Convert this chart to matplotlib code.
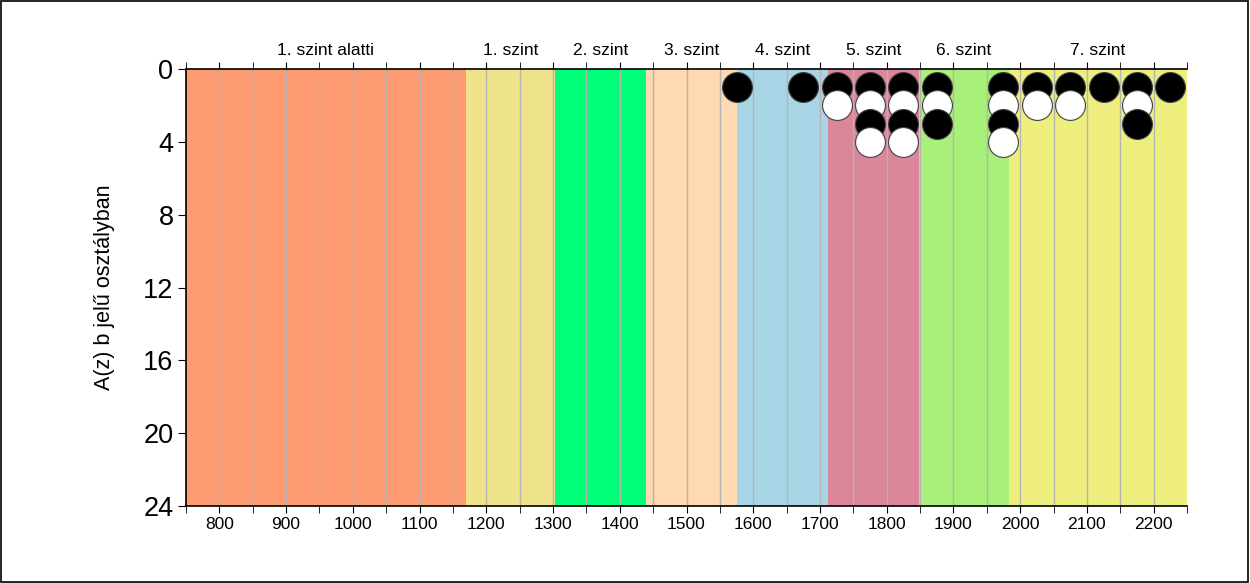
import matplotlib.pyplot as plt
from matplotlib.patches import Rectangle

plt.rcParams['font.family'] = ['Liberation Sans', 'DejaVu Sans']

# Szintek határai és színei
szint_nevek = ["1. szint alatti", "1. szint", "2. szint", "3. szint",
               "4. szint", "5. szint", "6. szint", "7. szint"]
szint_hatarok = [750, 1169, 1303, 1440, 1576, 1712, 1848, 1983, 2250]
szint_szinek = ["#FF9B73", "#EFE38A", "#00FF78", "#FFD9B2",
                "#A8D5E5", "#DB8799", "#A8F07A", "#EEEE7E"]

# Tanulók: oszlop (pontszám) és darabszám
oszlop_x = [1575, 1675, 1725, 1775, 1825, 1875, 1975, 2025, 2075, 2125, 2175, 2225]
oszlop_db = [1, 1, 2, 4, 4, 3, 4, 2, 2, 1, 3, 1]

y_tickek = [0, 4, 8, 12, 16, 20, 24]
x_tickek = [800, 900, 1000, 1100, 1200, 1300, 1400, 1500, 1600, 1700, 1800, 1900, 2000, 2100, 2200]

fig = plt.figure(figsize=(12.5, 5.83), dpi=100)
fig.patches.append(Rectangle((0.0005, 0.001), 0.998, 0.997, transform=fig.transFigure,
                             fill=False, edgecolor="black", linewidth=1.2))
ax = fig.add_axes([0.1488, 0.1321, 0.8008, 0.7495])

for i in range(len(szint_nevek)):
    ax.axvspan(szint_hatarok[i], szint_hatarok[i + 1], color=szint_szinek[i], zorder=0, lw=0)
    kozep = (szint_hatarok[i] + szint_hatarok[i + 1]) / 2
    ax.text(kozep, -0.6, szint_nevek[i], ha="center", va="bottom", fontsize=12.5)

# Függőleges rácsvonalak 50-esével
for gx in range(800, 2250, 50):
    ax.axvline(gx, color="#B4B4B4", lw=1, zorder=1)

# Pontok: felülről lefelé, fekete/fehér váltakozva
z = 3
for x, db in zip(oszlop_x, oszlop_db):
    for k in range(db):
        szin = "black" if k % 2 == 0 else "white"
        ax.plot(x, k + 1, "o", ms=21.5, mfc=szin, mec="#404040", mew=0.8, zorder=z)
        z += 1

ax.set_xlim(750, 2250)
ax.set_ylim(24, 0)

ax.set_yticks(y_tickek)
ax.set_yticklabels([str(v) for v in y_tickek], fontsize=19.5)
ax.set_xticks(x_tickek)
ax.set_xticks(range(750, 2251, 50), minor=True)
ax.tick_params(axis="x", which="both", top=True, bottom=True, length=5, labelsize=12.5)
ax.tick_params(axis="x", which="major", pad=3)
ax.tick_params(axis="y", length=6, pad=3)
ax.set_ylabel("A(z) b jelű osztályban", fontsize=15.5, labelpad=20)

ax.spines["right"].set_visible(False)
for s in ["left", "top", "bottom"]:
    ax.spines[s].set_linewidth(1.2)

fig.savefig("out.png", dpi=100)
